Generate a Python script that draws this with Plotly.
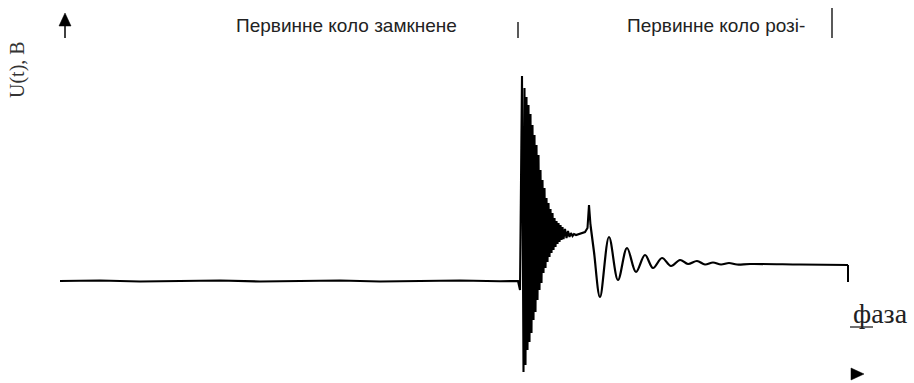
import plotly.graph_objects as go

# Transient voltage record: t in samples from the start of the trace, U in arbitrary units
# Quiet primary-closed interval (small ripple on the zero line)
t_base = [0, 40, 80, 120, 160, 200, 240, 280, 320, 360, 400, 440, 458]
u_base = [0, 0.5, -0.5, 0, 0.5, -0.5, 0, 0.5, -0.5, 0, 0.5, -0.3, 0]

# Switching burst: extremes of the fast decaying oscillation, then the opening spike
t_burst = [460, 462, 463.5, 464.5, 465.5, 466.5, 467.5, 468.5, 469.5, 470.5, 471.5,
           472.5, 473.5, 474.5, 475.5, 476.5, 477.5, 478.5, 479.5, 480.5, 481.5,
           482.5, 483.5, 484.5, 485.5, 486.5, 487.5, 488.5, 489.5, 490.5, 491.5,
           492.5, 493.5, 494.5, 495.5, 496.5, 497.5, 498.5, 499.5, 500.5, 501.5,
           502.5, 503.5, 505, 506.5, 508, 509.5, 511, 512.5, 514, 516, 520, 525,
           527.5, 529, 530.5]
u_burst = [-9, 205, -91, 193, -84, 184, -69, 176, -61, 167, -52,
           156, -39, 146, -31, 136, -19, 126, -9, 111, -2,
           101, 8, 93, 13, 83, 19, 78, 24, 72, 28,
           68, 31, 63, 34, 60, 37, 58, 39, 56, 41,
           54, 42, 52, 43, 50, 44, 48, 45, 47, 46, 47, 49,
           53, 76, 56]

# Slow damped ringing after the primary opens, settling to a constant level
t_ring = [530.5, 534, 540, 549, 558, 567, 576, 585, 593, 602, 611, 620, 628, 637,
          645, 653, 661, 669, 677, 690, 740, 788]
u_ring = [56, 29, -16, 44, 1, 33, 9, 26, 13, 23, 15, 21, 17, 20,
          16.5, 18.5, 16.5, 18, 16.5, 17, 16.5, 16]

# End of record
t_end = [788, 788]
u_end = [16, -1]

# Interval labels and their boundary marks
labels = ["Первинне коло замкнене", "Первинне коло розі-"]
label_t = [286, 656]
label_u = 256
mark_t = [458, 772]
mark_top = [259, 273]
mark_bottom = 243

y_title = "U(t), В"
x_title = "фаза"

fig = go.Figure()
t_first = t_base + t_burst
u_first = u_base + u_burst
fig.add_trace(go.Scatter(x=t_first, y=u_first, mode="lines",
                         line=dict(color="black", width=2.1), hoverinfo="skip"))
fig.add_trace(go.Scatter(x=t_ring, y=u_ring, mode="lines",
                         line=dict(color="black", width=2.2, shape="spline", smoothing=1.0),
                         hoverinfo="skip"))
fig.add_trace(go.Scatter(x=t_end, y=u_end, mode="lines", line=dict(color="black", width=2.0),
                         hoverinfo="skip"))

shapes = []
for mt, top in zip(mark_t, mark_top):
    shapes.append(dict(type="line", x0=mt, x1=mt, y0=mark_bottom, y1=top,
                       line=dict(color="black", width=1.3)))

# Axis arrows
shapes.append(dict(type="line", x0=5, x1=5, y0=243, y1=258,
                   line=dict(color="black", width=1.5)))
shapes.append(dict(type="path", path="M 5 268 L -1 255 L 11 255 Z",
                   fillcolor="black", line=dict(color="black", width=0.5)))
shapes.append(dict(type="path", path="M 804 -93 L 791 -87 L 791 -99 Z",
                   fillcolor="black", line=dict(color="black", width=0.5)))
# Underline beneath the first letter of the axis word
shapes.append(dict(type="line", x0=790, x1=813, y0=-46, y1=-46,
                   line=dict(color="#222", width=1.3)))

annotations = []
for txt, lt in zip(labels, label_t):
    annotations.append(dict(x=lt, y=label_u, text=txt, showarrow=False,
                            xanchor="center", yanchor="middle",
                            font=dict(family="Liberation Sans, Arial", size=19, color="#222")))
annotations.append(dict(x=-43, y=211, text=y_title, showarrow=False, textangle=-90,
                        xanchor="center", yanchor="middle",
                        font=dict(family="Liberation Serif, Times New Roman", size=20,
                                  color="#333")))
annotations.append(dict(x=820, y=-32, text=x_title, showarrow=False,
                        xanchor="center", yanchor="middle",
                        font=dict(family="Liberation Serif, Times New Roman", size=28,
                                  color="#222")))

fig.update_layout(
    width=914, height=383,
    margin=dict(l=0, r=0, t=0, b=0),
    paper_bgcolor="white", plot_bgcolor="white",
    showlegend=False,
    xaxis=dict(range=[-60, 854], visible=False, fixedrange=True),
    yaxis=dict(range=[-102, 281], visible=False, fixedrange=True),
    shapes=shapes, annotations=annotations,
)

fig.write_html("out.html")
